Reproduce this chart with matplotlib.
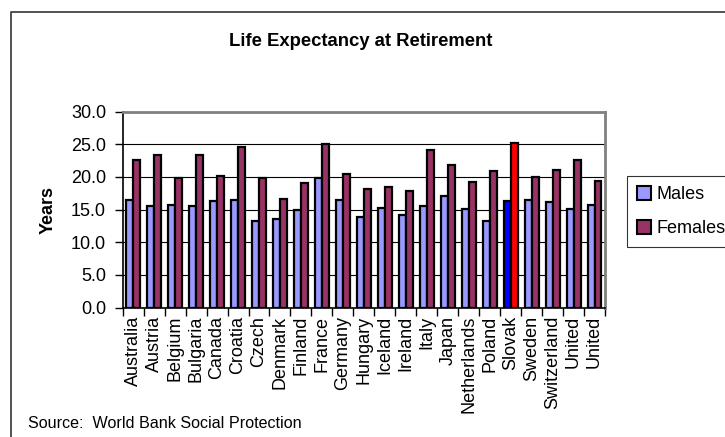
import matplotlib
matplotlib.use("Agg")
import matplotlib.pyplot as plt
import numpy as np
from matplotlib.lines import Line2D
from matplotlib.patches import Patch

plt.rcParams['font.family'] = ['Liberation Sans', 'DejaVu Sans']

countries = ["Australia", "Austria", "Belgium", "Bulgaria", "Canada", "Croatia",
             "Czech", "Denmark", "Finland", "France", "Germany", "Hungary",
             "Iceland", "Ireland", "Italy", "Japan", "Netherlands", "Poland",
             "Slovak", "Sweden", "Switzerland", "United", "United"]
males = [16.4, 15.6, 15.7, 15.5, 16.3, 16.5, 13.3, 13.5, 14.9, 19.8, 16.4, 13.9,
         15.3, 14.2, 15.6, 17.1, 15.1, 13.2, 16.3, 16.4, 16.1, 15.1, 15.7]
females = [22.6, 23.4, 19.9, 23.3, 20.1, 24.6, 19.9, 16.6, 19.1, 25.1, 20.5, 18.2,
           18.4, 17.9, 24.1, 21.8, 19.3, 20.9, 25.2, 20.0, 21.1, 22.6, 19.4]
highlight = "Slovak"
yticks = [0, 5, 10, 15, 20, 25, 30]

male_color = "#9999FF"
female_color = "#993366"
male_hi = "#0000FF"
female_hi = "#FF0000"

fig = plt.figure(figsize=(7.25, 4.37), dpi=100)
W, H = 725, 437
ax = fig.add_axes([122.7 / W, 1 - 307.5 / H, (605 - 122.7) / W, (307.5 - 111.7) / H])

x = np.arange(len(countries))
bw = 0.333
mcol = [male_hi if c == highlight else male_color for c in countries]
fcol = [female_hi if c == highlight else female_color for c in countries]
ax.bar(x - bw / 2, males, width=bw, color=mcol, edgecolor="black", linewidth=1.6, zorder=3)
ax.bar(x + bw / 2, females, width=bw, color=fcol, edgecolor="black", linewidth=1.6, zorder=3)

ax.set_xlim(-0.5, len(countries) - 0.5)
ax.set_ylim(0, 30)
ax.set_yticks(yticks)
ax.set_yticklabels([f"{v:.1f}" for v in yticks], fontsize=13)
for v in yticks[1:-1]:
    ax.axhline(v, color="black", linewidth=0.8, zorder=1)

# category ticks between groups, labels centred under each pair
ax.set_xticks(np.arange(-0.5, len(countries), 1.0))
ax.set_xticklabels([])
ax.set_xticks(x, minor=True)
ax.set_xticklabels(countries, minor=True, rotation=90, fontsize=13, va="top")
ax.tick_params(axis="x", which="minor", length=0, pad=6)
ax.tick_params(axis="x", which="major", length=6, width=1, direction="out")
ax.tick_params(axis="y", length=6, width=1, direction="out", pad=6)

ax.spines["left"].set_color("black")
ax.spines["left"].set_linewidth(1.2)
ax.spines["bottom"].set_color("black")
ax.spines["bottom"].set_linewidth(1.2)
ax.spines["top"].set_color("#808080")
ax.spines["top"].set_linewidth(2)
ax.spines["right"].set_color("#808080")
ax.spines["right"].set_linewidth(2)

ax.set_ylabel("Years", fontsize=13, fontweight="bold", labelpad=10)

fig.text(361 / W, 1 - 42 / H, "Life Expectancy at Retirement", ha="center", va="center",
         fontsize=13.3, fontweight="bold")
fig.text(28 / W, 1 - 424 / H, "Source:  World Bank Social Protection", ha="left",
         va="center", fontsize=11.6)

handles = [Patch(facecolor=male_color, edgecolor="black", linewidth=1.5),
           Patch(facecolor=female_color, edgecolor="black", linewidth=1.5)]
leg = fig.legend(handles, ["Males", "Females"], loc="upper left",
                 bbox_to_anchor=(627 / W, 1 - 176 / H), frameon=True, fontsize=13,
                 handlelength=0.8, handleheight=0.8, handletextpad=0.3,
                 borderpad=0.55, labelspacing=0.95, fancybox=False, borderaxespad=0)
leg.get_frame().set_edgecolor("black")
leg.get_frame().set_linewidth(0.8)

# outer chart border (top and left edges)
fig.add_artist(Line2D([11 / W, 11 / W, 1.0], [0.0, 1 - 12 / H, 1 - 12 / H],
                      color="#333333", linewidth=1.2, transform=fig.transFigure))

fig.savefig("out.png", dpi=100)
